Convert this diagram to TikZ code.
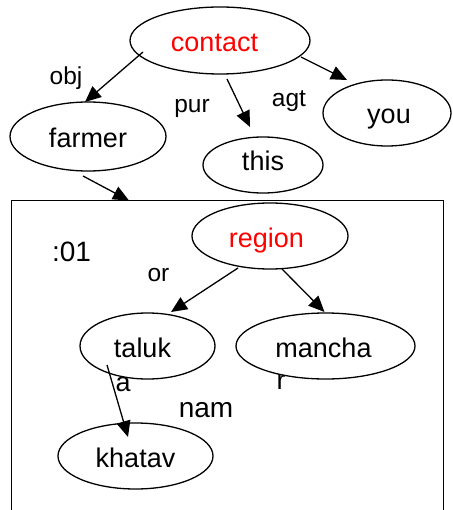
\documentclass[tikz,border=0pt]{standalone}
\usepackage{fontspec}
\setmainfont{Liberation Sans}
\usetikzlibrary{shapes.geometric,arrows.meta}
\begin{document}
\begin{tikzpicture}[x=1pt,y=-1pt,
  oval/.style={draw, ellipse, line width=1.3pt, fill=white, inner sep=0pt,
    font=\fontsize{27}{32}\selectfont, text height=22pt, text depth=0pt},
  key/.style={oval, text=red},
  rel/.style={inner sep=0pt, anchor=base, font=\fontsize{24.5}{29}\selectfont},
  big/.style={rel, font=\fontsize{28}{33}\selectfont},
  wrap/.style={inner sep=0pt, anchor=base west, font=\fontsize{27}{32}\selectfont},
  link/.style={line width=1.3pt, -{Triangle[length=16pt,width=14pt]}}
]
\useasboundingbox (0,0) rectangle (452,510);
\clip (0,0) rectangle (452,510);

% group frame (runs past the lower edge)
\node[draw, line width=1.3pt, anchor=north west, minimum width=432pt,
  minimum height=330pt, inner sep=0pt] (grp) at (11,200) {};

% overflowing last letters of wrapped words
\node[wrap] (talukrest) at (115.5,391) {a};
\node[wrap] (mancharest) at (276.5,389) {r};

% concept nodes
\node[key, minimum width=180pt, minimum height=67pt] (contact) at (220,40.5) {contact\hspace*{11pt}};
\node[oval, minimum width=156pt, minimum height=69pt] (farmer) at (88,136.5) {farmer};
\node[oval, minimum width=120pt, minimum height=56pt, text height=12pt] (this) at (263,165) {this};
\node[oval, minimum width=128pt, minimum height=66pt] (you) at (387,113) {\hspace*{4pt}you};
\node[key, minimum width=156pt, minimum height=66pt] (region) at (270,236) {region\hspace*{7pt}};
\node[oval, minimum width=135pt, minimum height=66pt] (taluk) at (147.5,346) {taluk\hspace*{10pt}};
\node[oval, minimum width=179pt, minimum height=66pt] (mancha) at (325.5,346) {mancha\hspace*{4pt}};
\node[oval, minimum width=155pt, minimum height=66pt] (khatav) at (135.5,456) {khatav};

% relation labels
\node[rel] (objlbl) at (66,85) {obj};
\node[rel] (purlbl) at (192,113) {pur};
\node[rel] (agtlbl) at (289,107) {agt};
\node[rel] (orlbl) at (158.5,281) {or};
\node[big] (grplbl) at (71.5,261.5) {:01};
\node[big] (namlbl) at (206,417) {nam};

% relations
\draw[link] ([shift={(-77,11.5)}]contact.center) -- ([shift={(-3,-34.5)}]farmer.center);
\draw[link] ([shift={(7,38.5)}]contact.center) -- ([shift={(-13,-38)}]this.center);
\draw[link] ([shift={(81,16.5)}]contact.center) -- ([shift={(-40,-33)}]you.center);
\draw[link] ([shift={(-5,39.5)}]farmer.center) -- ([shift={(118,0.5)}]grp.north west);
\draw[link] ([shift={(-32,32)}]region.center) -- ([shift={(23.5,-34)}]taluk.center);
\draw[link] ([shift={(12,33)}]region.center) -- ([shift={(-1,-34)}]mancha.center);
\draw[link] ([shift={(-40.5,19)}]taluk.center) -- ([shift={(-7.5,-19)}]khatav.center);
\end{tikzpicture}
\end{document}
